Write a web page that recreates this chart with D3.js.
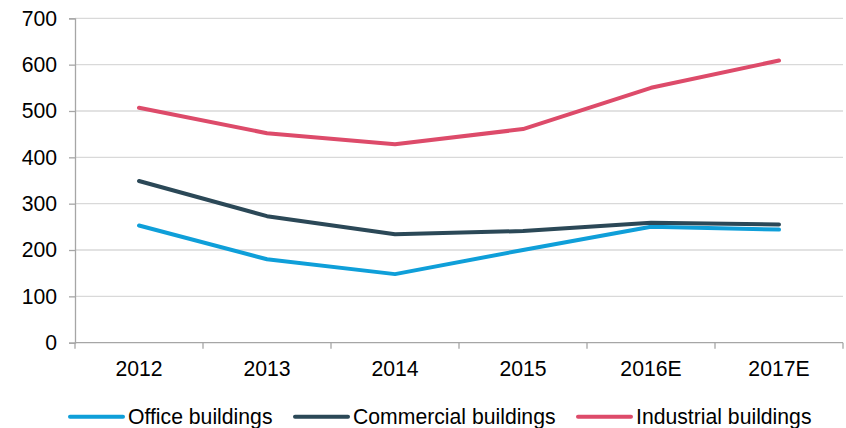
<!DOCTYPE html>
<html>
<head>
<meta charset="utf-8">
<script src="https://cdn.jsdelivr.net/npm/d3@7"></script>
<style>
  html, body { margin: 0; padding: 0; background: #fff; }
  svg { display: block; }
  text { font-family: "Liberation Sans", Arial, sans-serif; fill: #000; }
</style>
</head>
<body>
<svg id="chart" width="846" height="428"></svg>
<script>
// Building volumes by year, per segment
const years = ["2012", "2013", "2014", "2015", "2016E", "2017E"];
const officeValues = [253, 180, 148, 200, 250, 244];
const commercialValues = [349, 273, 234, 241, 259, 255];
const industrialValues = [507, 452, 428, 461, 550, 609];
const yTicks = [0, 100, 200, 300, 400, 500, 600, 700];

const series = [
  { name: "Office buildings", values: officeValues, color: "#0f9fd9" },
  { name: "Commercial buildings", values: commercialValues, color: "#2b4857" },
  { name: "Industrial buildings", values: industrialValues, color: "#dd4b6a" }
];

const svg = d3.select("#chart");
const plot = { left: 75, right: 843, top: 18.3, bottom: 342.7 };
const fontSize = 21.2;

const x = d3.scaleBand().domain(years).range([plot.left, plot.right]);
const y = d3.scaleLinear().domain([0, 700]).range([plot.bottom, plot.top]);

// horizontal gridlines
svg.append("g")
  .selectAll("line")
  .data(yTicks.filter(d => d > 0))
  .join("line")
  .attr("x1", plot.left).attr("x2", plot.right)
  .attr("y1", d => y(d)).attr("y2", d => y(d))
  .attr("stroke", "#d9d9d9").attr("stroke-width", 1.3);

// y axis
const yAxis = svg.append("g")
  .attr("transform", `translate(${plot.left},0)`)
  .call(d3.axisLeft(y).tickValues(yTicks).tickSize(6).tickPadding(12));
yAxis.select(".domain").attr("stroke", "#a6a6a6").attr("stroke-width", 1.3);
yAxis.selectAll(".tick line").attr("stroke", "#a6a6a6").attr("stroke-width", 1.3);
yAxis.selectAll(".tick text")
  .style("font-size", fontSize + "px")
  .style("font-family", "Liberation Sans, Arial, sans-serif")
  .attr("fill", "#000");

// x axis: baseline with ticks between categories
const xAxis = svg.append("g")
  .attr("transform", `translate(0,${plot.bottom})`);
xAxis.append("line")
  .attr("x1", plot.left).attr("x2", plot.right)
  .attr("stroke", "#a6a6a6").attr("stroke-width", 1.3);
xAxis.selectAll("line.tick")
  .data(years.map(d => x(d)).concat([plot.right]))
  .join("line")
  .attr("class", "tick")
  .attr("x1", d => d).attr("x2", d => d)
  .attr("y1", 0).attr("y2", 6)
  .attr("stroke", "#a6a6a6").attr("stroke-width", 1.3);
xAxis.selectAll("text")
  .data(years)
  .join("text")
  .attr("x", d => x(d) + x.bandwidth() / 2)
  .attr("y", 33)
  .attr("text-anchor", "middle")
  .style("font-size", fontSize + "px")
  .text(d => d);

// series lines
const line = d3.line()
  .x((d, i) => x(years[i]) + x.bandwidth() / 2)
  .y(d => y(d));

svg.append("g")
  .selectAll("path")
  .data(series)
  .join("path")
  .attr("d", d => line(d.values))
  .attr("fill", "none")
  .attr("stroke", d => d.color)
  .attr("stroke-width", 4)
  .attr("stroke-linejoin", "round")
  .attr("stroke-linecap", "round");

// legend
const legendY = 416.7;
const legendItems = [
  { s: series[0], x0: 70 },
  { s: series[1], x0: 295 },
  { s: series[2], x0: 578 }
];
const legend = svg.append("g");
legendItems.forEach(item => {
  legend.append("line")
    .attr("x1", item.x0).attr("x2", item.x0 + 53)
    .attr("y1", legendY).attr("y2", legendY)
    .attr("stroke", item.s.color).attr("stroke-width", 4)
    .attr("stroke-linecap", "round");
  legend.append("text")
    .attr("x", item.x0 + 58)
    .attr("y", legendY + 7)
    .style("font-size", fontSize + "px")
    .text(item.s.name);
});
</script>
</body>
</html>
